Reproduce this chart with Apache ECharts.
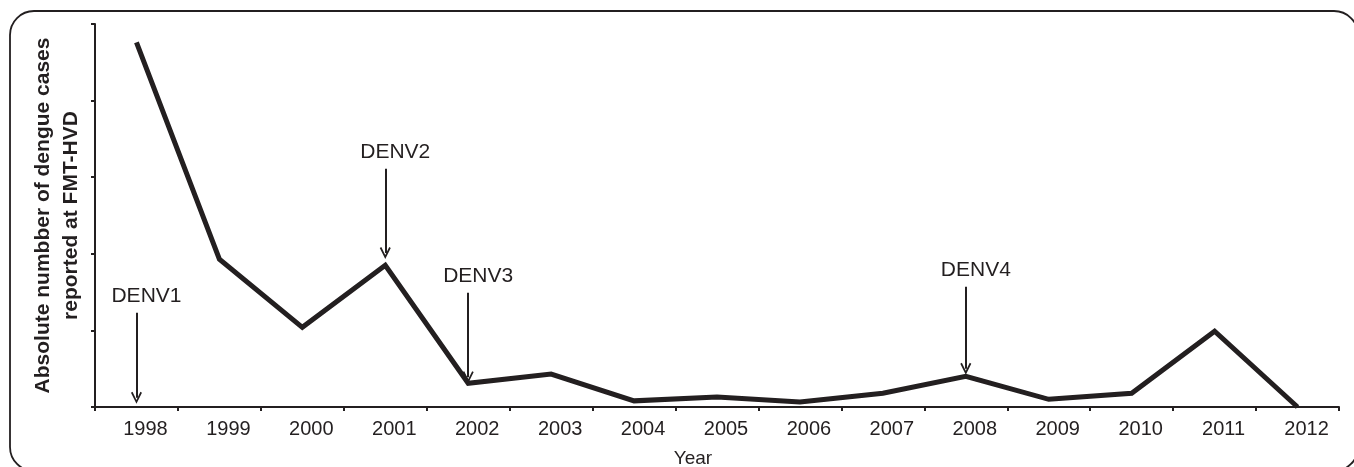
<!DOCTYPE html>
<html>
<head>
<meta charset="utf-8">
<script src="https://cdn.jsdelivr.net/npm/echarts@6/dist/echarts.min.js"></script>
<style>
html,body{margin:0;padding:0;background:#fff;}
#chart{width:1354px;height:467px;}
</style>
</head>
<body>
<div id="chart"></div>
<script>
// ---- data ----
const years = ['1998','1999','2000','2001','2002','2003','2004','2005','2006','2007','2008','2009','2010','2011','2012'];
const cases = [476, 193, 104, 185, 31, 43, 8, 13, 6.5, 18, 40, 10, 18, 99, 0];
const serotypes = ['DENV1','DENV2','DENV3','DENV4'];
const introYears = ['1998','2001','2002','2008'];
const arrowStart = [123, 311, 149, 157];
const arrowEnd = [12, 201, 39, 50];

const ink = '#231f20';
const font = 'Liberation Sans, Arial, sans-serif';

const chart = echarts.init(document.getElementById('chart'));

const arrows = serotypes.map((s, i) => [
  { coord: [introYears[i], arrowStart[i]], name: s },
  { coord: [introYears[i], arrowEnd[i]] }
]);

chart.setOption({
  animation: false,
  backgroundColor: '#fff',
  grid: { left: 95, right: 15, top: 24, bottom: 60, containLabel: false, outerBoundsMode: 'none' },
  xAxis: {
    type: 'category',
    data: years,
    boundaryGap: true,
    name: 'Year',
    nameLocation: 'middle',
    nameGap: 42,
    nameTextStyle: { fontFamily: font, fontSize: 19, color: ink, padding: [0, 48, 0, 0] },
    axisLine: { lineStyle: { color: ink, width: 2 } },
    axisTick: { show: true, length: 4, lineStyle: { color: ink, width: 2 } },
    axisLabel: {
      interval: 0, fontFamily: font, fontSize: 20, color: ink, margin: 12,
      padding: [0, 0, 0, 18],
      formatter: (v, i) => i === 0 ? '{hi|' + v + '}' : v,
      rich: { hi: { fontFamily: font, fontSize: 20, color: ink, padding: [0, 0, 6, 0] } }
    },
    splitLine: { show: false }
  },
  yAxis: {
    type: 'value',
    min: 0, max: 500, interval: 100,
    name: 'Absolute numbber of dengue cases\nreported at FMT-HVD',
    nameLocation: 'middle',
    nameRotate: 90,
    nameGap: 10,
    nameTextStyle: { fontFamily: font, fontSize: 21, fontWeight: 'bold', color: ink, lineHeight: 28 },
    axisLine: { show: true, lineStyle: { color: ink, width: 2 } },
    axisTick: { show: true, length: 4, lineStyle: { color: ink, width: 2 } },
    axisLabel: { show: false },
    splitLine: { show: false }
  },
  series: [{
    type: 'line',
    data: cases,
    symbol: 'none',
    lineStyle: { color: ink, width: 5, join: 'miter', cap: 'butt' },
    markLine: {
      silent: true,
      symbol: ['none', 'path://M5,0 L10,9 L8.6,9.8 L5,3.2 L1.4,9.8 L0,9 Z'],
      symbolSize: [11, 12],
      lineStyle: { color: ink, width: 2, type: 'solid' },
      label: {
        show: true, position: 'start', formatter: '{b}',
        fontFamily: font, fontSize: 21, color: ink, distance: 6, offset: [10, 0]
      },
      data: arrows
    }
  }],
  graphic: [{
    type: 'rect',
    shape: { x: 10, y: 11, width: 1348, height: 460, r: 24 },
    style: { fill: 'none', stroke: ink, lineWidth: 1.8 },
    silent: true, z: 100
  }]
});
</script>
</body>
</html>
